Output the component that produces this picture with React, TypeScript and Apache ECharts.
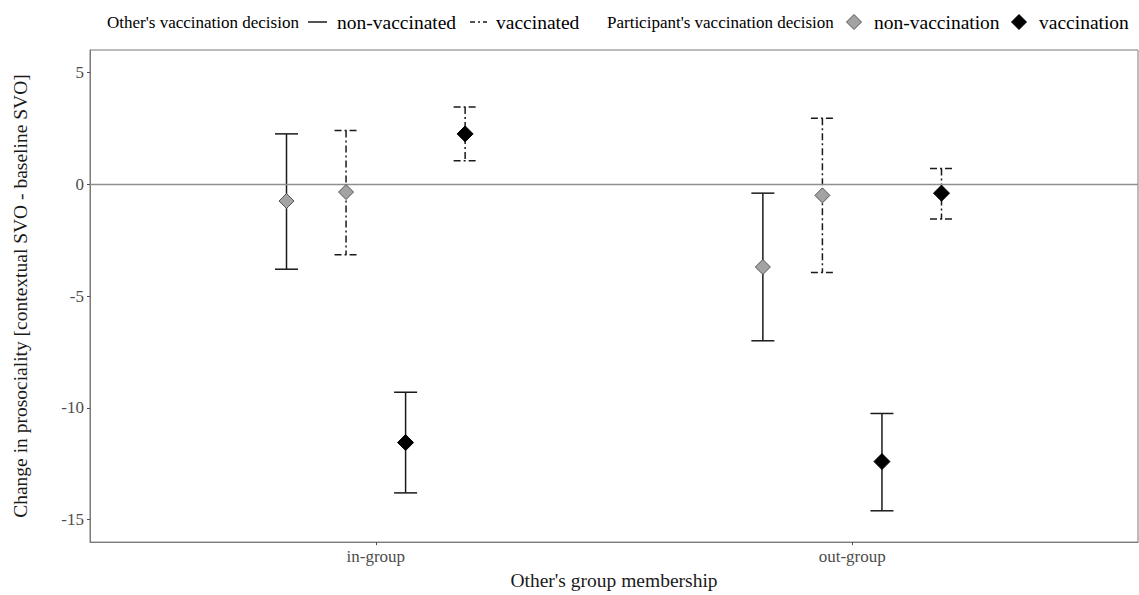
import React, { useEffect, useRef } from "react";
import * as echarts from "echarts";

const categories = ["in-group", "out-group"];
const participantDecisions = ["non-vaccination", "vaccination"];
const otherDecisions = ["non-vaccinated", "vaccinated"];

// values per category [in-group, out-group]
const meanNonvaccNonvacc = [-0.75, -3.7];
const lowNonvaccNonvacc = [-3.8, -7.0];
const highNonvaccNonvacc = [2.25, -0.4];

const meanNonvaccVacc = [-0.35, -0.5];
const lowNonvaccVacc = [-3.15, -3.95];
const highNonvaccVacc = [2.4, 2.95];

const meanVaccNonvacc = [-11.55, -12.4];
const lowVaccNonvacc = [-13.8, -14.6];
const highVaccNonvacc = [-9.3, -10.25];

const meanVaccVacc = [2.25, -0.4];
const lowVaccVacc = [1.05, -1.55];
const highVaccVacc = [3.45, 0.7];

const yTicks = [-15, -10, -5, 0, 5];

const groups = [
  { participant: 0, other: 0, mean: meanNonvaccNonvacc, low: lowNonvaccNonvacc, high: highNonvaccNonvacc },
  { participant: 0, other: 1, mean: meanNonvaccVacc, low: lowNonvaccVacc, high: highNonvaccVacc },
  { participant: 1, other: 0, mean: meanVaccNonvacc, low: lowVaccNonvacc, high: highVaccNonvacc },
  { participant: 1, other: 1, mean: meanVaccVacc, low: lowVaccVacc, high: highVaccVacc },
];
const dodge = [-0.1875, -0.0625, 0.0625, 0.1875];

const FONT = "Liberation Serif";
const LINE = "#1a1a1a";
const DASH = [7, 3, 2, 3];
const fillFor = (p: number) => (p === 0 ? "#a3a3a3" : "#000000");
const borderFor = (p: number) => (p === 0 ? "#555555" : "#000000");

export default function App() {
  const ref = useRef<HTMLDivElement>(null);
  useEffect(() => {
    if (!ref.current) return;
    const chart = echarts.init(ref.current, undefined, { renderer: "svg" });

    const series: any[] = [];
    groups.forEach((g, gi) => {
      const data = categories.map((_, ci) => [ci + 1 + dodge[gi], g.low[ci], g.high[ci]]);
      series.push({
        type: "custom",
        name: participantDecisions[g.participant] + " / " + otherDecisions[g.other],
        data,
        z: 2,
        renderItem: (params: any, api: any) => {
          const x = api.value(0);
          const top = api.coord([x, api.value(2)]);
          const bot = api.coord([x, api.value(1)]);
          const hw = 11.5;
          const style = {
            stroke: LINE,
            lineWidth: 1.5,
            lineDash: g.other === 1 ? DASH : null,
          };
          return {
            type: "group",
            children: [
              { type: "line", shape: { x1: top[0], y1: top[1], x2: bot[0], y2: bot[1] }, style },
              { type: "line", shape: { x1: top[0] - hw, y1: top[1], x2: top[0] + hw, y2: top[1] }, style },
              { type: "line", shape: { x1: bot[0] - hw, y1: bot[1], x2: bot[0] + hw, y2: bot[1] }, style },
            ],
          };
        },
      });
    });
    groups.forEach((g, gi) => {
      series.push({
        type: "scatter",
        symbol: "diamond",
        symbolSize: g.participant === 0 ? [15, 15] : [16, 16],
        z: 5,
        itemStyle: { color: fillFor(g.participant), borderColor: borderFor(g.participant), borderWidth: 1, opacity: 1 },
        data: categories.map((_, ci) => [ci + 1 + dodge[gi], g.mean[ci]]),
      });
    });
    series.push({
      type: "line",
      data: [],
      markLine: {
        silent: true,
        symbol: "none",
        label: { show: false },
        lineStyle: { color: "#8f8f8f", width: 1.3, type: "solid" },
        data: [{ yAxis: 0 }],
      },
    });

    const ly = 22;
    const diamond = (cx: number, cy: number, r: number, fill: string, stroke: string) => ({
      type: "polygon",
      shape: { points: [[cx, cy - r], [cx + r, cy], [cx, cy + r], [cx - r, cy]] },
      style: { fill, stroke, lineWidth: 1 },
    });
    const txt = (x: number, text: string, size: number) => ({
      type: "text",
      x,
      y: ly,
      style: { text, fontFamily: FONT, fontSize: size, fill: "#000", verticalAlign: "middle", align: "left" },
    });

    chart.setOption({
      animation: false,
      backgroundColor: "#ffffff",
      grid: {
        left: 90,
        right: 1,
        top: 50,
        bottom: 49,
        show: true,
        borderColor: "#7a7a7a",
        borderWidth: 1,
        containLabel: false,
      },
      xAxis: {
        type: "value",
        min: 0.4,
        max: 2.6,
        name: "Other's group membership",
        nameLocation: "middle",
        nameGap: 19,
        nameTextStyle: { fontFamily: FONT, fontSize: 19.5, color: "#1a1a1a" },
        axisLine: { show: true, onZero: false, lineStyle: { color: "#7a7a7a", width: 1 } },
        axisTick: { show: true, length: 3, customValues: [1, 2], lineStyle: { color: "#4d4d4d" } },
        axisLabel: {
          customValues: [1, 2],
          formatter: (v: number) => categories[Math.round(v) - 1] ?? "",
          fontFamily: FONT,
          fontSize: 17,
          color: "#4d4d4d",
          margin: 6,
        },
        splitLine: { show: false },
      },
      yAxis: {
        type: "value",
        min: -16,
        max: 6,
        name: "Change in prosociality [contextual SVO - baseline SVO]",
        nameLocation: "middle",
        nameGap: 60,
        nameRotate: 90,
        nameTextStyle: { fontFamily: FONT, fontSize: 19.5, color: "#1a1a1a" },
        axisLine: { show: true, onZero: false, lineStyle: { color: "#7a7a7a", width: 1 } },
        axisTick: { show: true, length: 3, customValues: yTicks, lineStyle: { color: "#4d4d4d" } },
        axisLabel: {
          customValues: yTicks,
          fontFamily: FONT,
          fontSize: 17,
          color: "#4d4d4d",
          margin: 6,
        },
        splitLine: { show: false },
      },
      series,
      graphic: [
        txt(107, "Other's vaccination decision", 17),
        { type: "line", shape: { x1: 308, y1: ly, x2: 327, y2: ly }, style: { stroke: LINE, lineWidth: 1.5 } },
        txt(337, "non-vaccinated", 19.5),
        { type: "line", shape: { x1: 470, y1: ly, x2: 487, y2: ly }, style: { stroke: LINE, lineWidth: 1.5, lineDash: [5, 3, 2, 3] } },
        txt(496, "vaccinated", 19.5),
        txt(607, "Participant's vaccination decision", 17),
        diamond(854, ly, 7.5, "#a3a3a3", "#555555"),
        txt(874, "non-vaccination", 19.5),
        diamond(1019, ly, 7.5, "#000", "#000"),
        txt(1039, "vaccination", 19.5),
      ],
    });
    return () => chart.dispose();
  }, []);
  return <div ref={ref} style={{ position: "fixed", left: 0, top: 0, width: 1139, height: 595 }} />;
}
